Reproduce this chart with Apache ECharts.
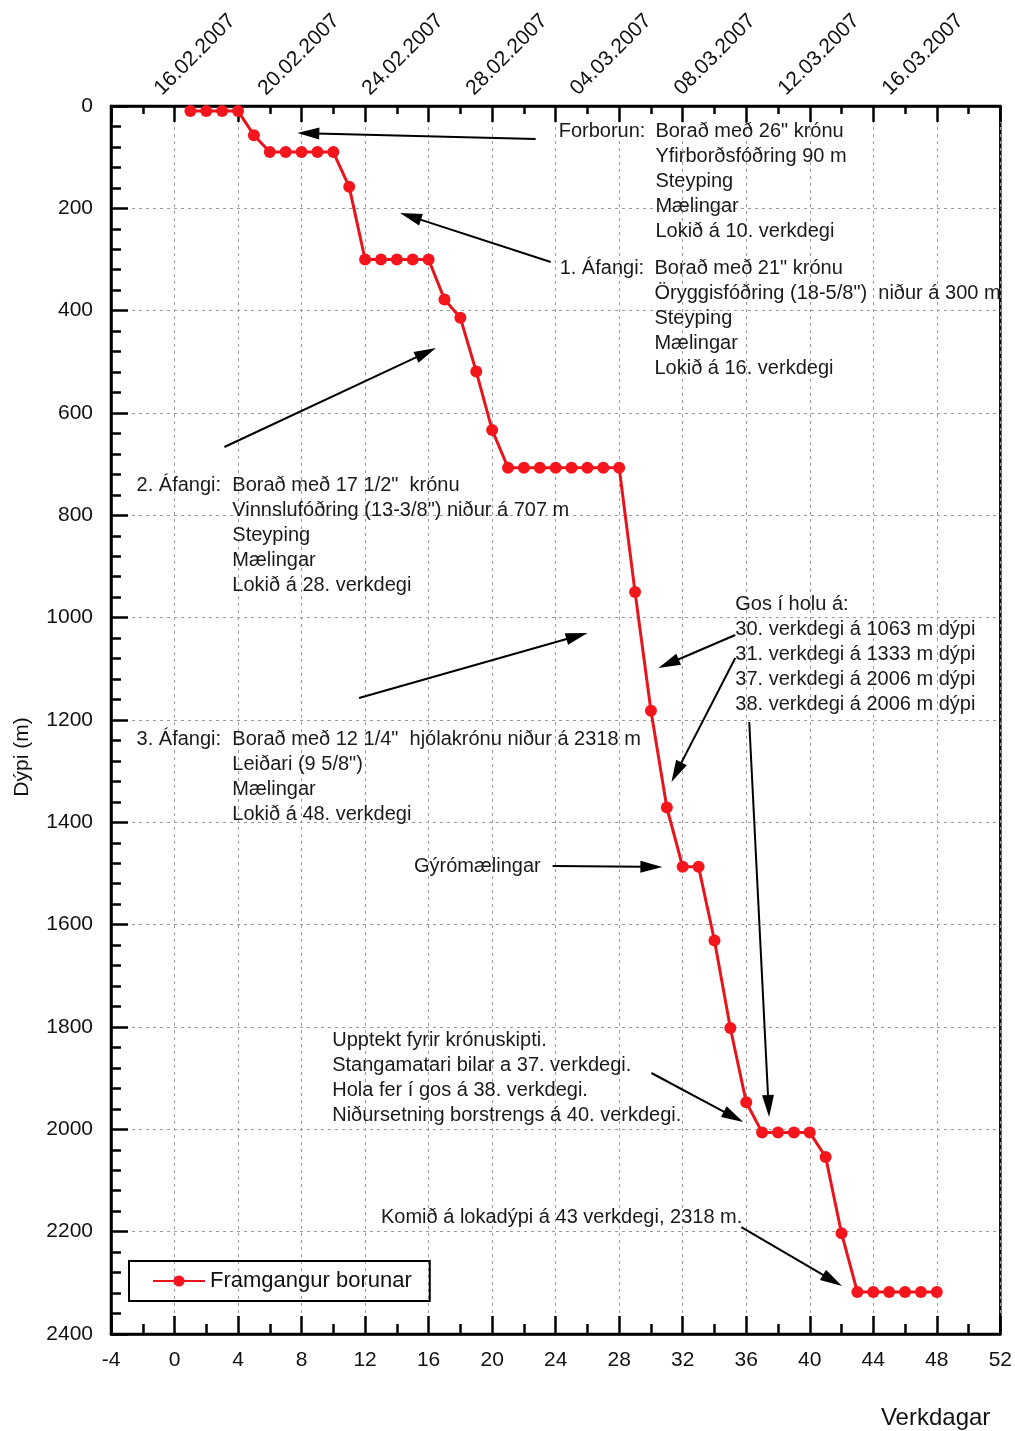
<!DOCTYPE html>
<html>
<head>
<meta charset="utf-8">
<script src="https://cdn.jsdelivr.net/npm/echarts@6/dist/echarts.min.js"></script>
<style>html,body{margin:0;padding:0;background:#fff}#c{width:1015px;height:1431px}</style>
</head>
<body>
<div id="c"></div>
<script>
// ---- data ----
const days = [1,2,3,4,5,6,7,8,9,10,11,12,13,14,15,16,17,18,19,20,21,22,23,24,25,26,27,28,29,30,31,32,33,34,35,36,37,38,39,40,41,42,43,44,45,46,47,48];
const depths = [10,10,10,10,57,90,90,90,90,90,158,300,300,300,300,300,378,414,519,633,707,707,707,707,707,707,707,707,950,1182,1371,1487,1487,1631,1802,1947,2006,2006,2006,2006,2054,2203,2318,2318,2318,2318,2318,2318];
const seriesName = 'Framgangur borunar';
const topDateValues = [0,4,8,12,16,20,24,28];
const topDateLabels = ['16.02.2007','20.02.2007','24.02.2007','28.02.2007','04.03.2007','08.03.2007','12.03.2007','16.03.2007'];
const xAxisTitle = 'Verkdagar';
const yAxisTitle = 'Dýpi (m)';

// annotations (data coords: [day, depth]); text anchor = left edge / first line centre
const noteTexts = [
  {at:[24.19, 49],  text:'Forborun:'},
  {at:[30.28, 49],  text:'Borað með 26" krónu\nYfirborðsfóðring 90 m\nSteyping\nMælingar\nLokið á 10. verkdegi'},
  {at:[24.25, 317], text:'1. Áfangi:'},
  {at:[30.22, 317], text:'Borað með 21" krónu\nÖryggisfóðring (18-5/8")  niður á 300 m\nSteyping\nMælingar\nLokið á 16. verkdegi'},
  {at:[-2.39, 741], text:'2. Áfangi:'},
  {at:[3.64, 741],  text:'Borað með 17 1/2"  krónu\nVinnslufóðring (13-3/8") niður á 707 m\nSteyping\nMælingar\nLokið á 28. verkdegi'},
  {at:[-2.39, 1239], text:'3. Áfangi:'},
  {at:[3.64, 1239],  text:'Borað með 12 1/4"  hjólakrónu niður á 2318 m\nLeiðari (9 5/8")\nMælingar\nLokið á 48. verkdegi'},
  {at:[35.31, 975], text:'Gos í holu á:\n30. verkdegi á 1063 m dýpi\n31. verkdegi á 1333 m dýpi\n37. verkdegi á 2006 m dýpi\n38. verkdegi á 2006 m dýpi'},
  {at:[15.08, 1487], text:'Gýrómælingar'},
  {at:[9.93, 1827], text:'Upptekt fyrir krónuskipti.\nStangamatari bilar a 37. verkdegi.\nHola fer í gos á 38. verkdegi.\nNiðursetning borstrengs á 40. verkdegi.'},
  {at:[13.0, 2173], text:'Komið á lokadýpi á 43 verkdegi, 2318 m.'}
];
const noteArrows = [
  [[22.74, 64.5],  [7.73, 52.8]],
  [[23.69, 304.9], [14.20, 209.1]],
  [[3.14, 666.4],  [16.46, 473.0]],
  [[11.62, 1157.0],[26.01, 1030.0]],
  [[35.31, 1033.9],[30.47, 1098.4]],
  [[35.31, 1078.8],[31.29, 1321.2]],
  [[23.81, 1485.3],[30.72, 1487.2]],
  [[36.19, 1203.9],[37.44, 1975.9]],
  [[30.03, 1889.9],[35.81, 1985.7]],
  [[35.69, 2191.2],[42.03, 2306.2]]
];

// ---- chart ----
const FONT = '"Liberation Sans", Arial, sans-serif';
const AX = '#000';
const gridLine = {show:true, lineStyle:{color:'#9a9a9a', width:1, type:[3,4]}};

const chart = echarts.init(document.getElementById('c'), null, {renderer:'canvas'});
const option = {
  animation:false,
  backgroundColor:'#fff',
  grid:{left:111, top:106, width:892, height:1228, show:true, borderColor:'#000', borderWidth:2.5, backgroundColor:'transparent'},
  legend:{
    left:129, top:1261, orient:'horizontal',
    data:[seriesName],
    borderColor:'#000', borderWidth:2, padding:[9,18,9,23],
    itemWidth:52, itemHeight:14, itemGap:5,
    textStyle:{fontSize:22, fontFamily:FONT, color:'#111'}
  },
  xAxis:[
    {
      type:'value', position:'bottom', min:-4, max:52, interval:4,
      axisLine:{onZero:false, lineStyle:{color:AX, width:2.5}},
      axisTick:{inside:true, length:18, lineStyle:{color:AX, width:2.5}},
      minorTick:{show:true, splitNumber:2, length:10, lineStyle:{color:AX, width:2.5}},
      axisLabel:{fontSize:21, fontFamily:FONT, color:'#111', margin:16},
      splitLine:gridLine,
      name:xAxisTitle, nameLocation:'end', nameGap:0,
      nameTextStyle:{fontSize:24, fontFamily:FONT, color:'#111', align:'right', verticalAlign:'top', padding:[72,10,0,0]}
    },
    {
      type:'value', position:'top', min:-4, max:52, interval:4,
      axisLine:{onZero:false, lineStyle:{color:AX, width:2.5}},
      axisTick:{inside:true, length:16, lineStyle:{color:AX, width:2.5}},
      minorTick:{show:true, splitNumber:2, length:8, lineStyle:{color:AX, width:2.5}},
      axisLabel:{show:false},
      splitLine:{show:false}
    },
    {
      type:'value', position:'top', min:-1.80, max:32.40,
      axisLine:{show:false, onZero:false},
      axisTick:{show:false},
      axisLabel:{
        show:true, rotate:-45, margin:14, fontSize:21, fontFamily:FONT, color:'#111',
        customValues:topDateValues,
        formatter:function(v){ const i = topDateValues.indexOf(Math.round(v)); return i >= 0 ? topDateLabels[i] : ''; }
      },
      splitLine:{show:false}
    }
  ],
  yAxis:[
    {
      type:'value', position:'left', inverse:true, min:0, max:2400, interval:200,
      axisLine:{onZero:false, lineStyle:{color:AX, width:2.5}},
      axisTick:{inside:true, length:17, lineStyle:{color:AX, width:2.5}},
      minorTick:{show:true, splitNumber:5, length:10, lineStyle:{color:AX, width:2.5}},
      axisLabel:{fontSize:21, fontFamily:FONT, color:'#111', margin:18, formatter:function(v){ return String(v); }},
      splitLine:gridLine,
      name:yAxisTitle, nameLocation:'middle', nameGap:78, nameRotate:90,
      nameTextStyle:{fontSize:21, fontFamily:FONT, color:'#111', padding:[0,74,0,0]}
    }
  ],
  series:[
    {
      name:seriesName, type:'line', xAxisIndex:0, yAxisIndex:0,
      data:days.map((d,i)=>[d, depths[i]]),
      symbol:'circle', symbolSize:12, showSymbol:true, clip:false,
      lineStyle:{color:'#e8141b', width:3},
      itemStyle:{color:'#f5151c'},
      z:5
    }
  ]
};
chart.setOption(option);

// annotations positioned through the chart's own scales
const toPx = p => chart.convertToPixel({xAxisIndex:0, yAxisIndex:0}, p);
const LH = 25;
const graphics = [];
noteTexts.forEach(n => {
  const p = toPx(n.at);
  graphics.push({
    type:'text', x:p[0], y:p[1] - LH/2, z:50,
    style:{text:n.text, fontSize:20, fontFamily:FONT, fill:'#1a1a1a', lineHeight:LH, align:'left', verticalAlign:'top'}
  });
});
noteArrows.forEach(ar => {
  const a = toPx(ar[0]), b = toPx(ar[1]);
  const dx = b[0]-a[0], dy = b[1]-a[1], L = Math.hypot(dx, dy);
  const ux = dx/L, uy = dy/L, hl = 22, hw = 6;
  const bx = b[0]-ux*hl, by = b[1]-uy*hl;
  graphics.push({type:'line', z:50, shape:{x1:a[0], y1:a[1], x2:bx+ux*3, y2:by+uy*3}, style:{stroke:'#000', lineWidth:2}});
  graphics.push({type:'polygon', z:50, shape:{points:[[b[0],b[1]],[bx-uy*hw, by+ux*hw],[bx+uy*hw, by-ux*hw]]}, style:{fill:'#000'}});
});
chart.setOption({graphic:graphics});
</script>
</body>
</html>
